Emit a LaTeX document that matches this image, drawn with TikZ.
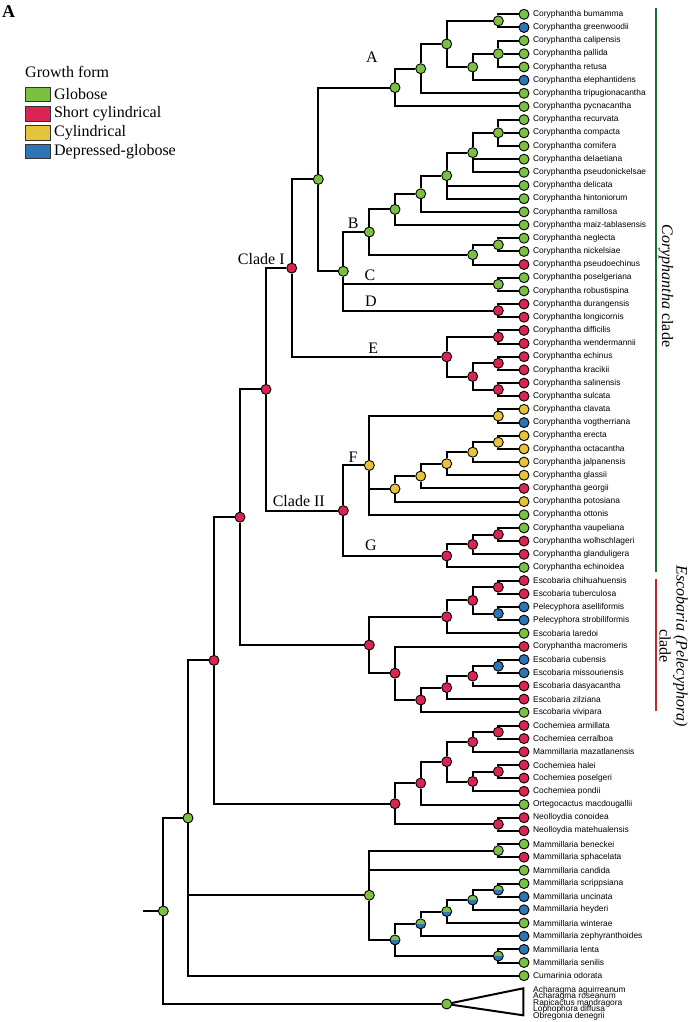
\documentclass[tikz,border=0pt]{standalone}
\usepackage{fontspec}
\setmainfont{Liberation Serif}
\newfontfamily\taxonfont{Liberation Sans}
\usetikzlibrary{backgrounds}
\definecolor{gcol}{HTML}{7AC143}
\definecolor{rcol}{HTML}{DA2553}
\definecolor{ycol}{HTML}{E5C43A}
\definecolor{bcol}{HTML}{2E75B6}
\definecolor{corygreen}{HTML}{1F6B3A}
\definecolor{escored}{HTML}{C0272D}
\begin{document}
\begin{tikzpicture}
	[x=1pt,y=-1pt,label distance=3.5pt,
		branch/.style={black,line width=2pt},
		tipnode/.style={circle,draw=black,line width=0.9pt,inner sep=0pt,minimum size=10pt},
		glob/.style={tipnode,fill=gcol},
		scyl/.style={tipnode,fill=rcol},
		cyl/.style={tipnode,fill=ycol},
		dglob/.style={tipnode,fill=bcol},
		mixed/.style={tipnode,fill=gcol,path picture={\fill[bcol] (path picture bounding box.west) rectangle (path picture bounding box.south east);}},
		taxon/.style={font=\taxonfont\fontsize{8.4}{9}\selectfont,inner sep=0pt},
		cladelab/.style={font=\fontsize{16}{18}\selectfont,inner sep=0pt},
		cladename/.style={font=\fontsize{16}{17}\selectfont,inner sep=0pt,rotate=-90},
		legbox/.style={draw=black!80,line width=0.8pt,minimum width=25pt,minimum height=14.5pt,inner sep=0pt},
		legtext/.style={font=\fontsize{16}{18}\selectfont,inner sep=0pt}]
	\useasboundingbox (0,0) rectangle (694,1022);
	% panel letter and legend
	\node[anchor=north west,inner sep=0pt,font=\bfseries\fontsize{18}{20}\selectfont] (panel) at (2,5) {A};
	\node[legtext,anchor=base west] (growth) at (25,77.5) {Growth form};
	\node[legbox,fill=gcol,label={[legtext]right:Globose}] (kglob) at (37.5,94.5) {};
	\node[legbox,fill=rcol,label={[legtext]right:Short cylindrical}] (kscyl) at (37.5,113.7) {};
	\node[legbox,fill=ycol,label={[legtext]right:Cylindrical}] (kcyl) at (37.5,132.7) {};
	\node[legbox,fill=bcol,label={[legtext]right:Depressed-globose}] (kdglob) at (37.5,151.2) {};
	% tips
	\node[glob,label={[taxon]right:Coryphantha bumamma}] (bumamma) at (524,14.3) {};
	\node[dglob,label={[taxon]right:Coryphantha greenwoodii}] (greenwoodii) at (524,27.5) {};
	\node[glob,label={[taxon]right:Coryphantha calipensis}] (calipensis) at (524,40.6) {};
	\node[glob,label={[taxon]right:Coryphantha pallida}] (pallida) at (524,53.8) {};
	\node[glob,label={[taxon]right:Coryphantha retusa}] (retusa) at (524,67.0) {};
	\node[dglob,label={[taxon]right:Coryphantha elephantidens}] (elephantidens) at (524,80.2) {};
	\node[glob,label={[taxon]right:Coryphantha tripugionacantha}] (tripugionacantha) at (524,93.3) {};
	\node[glob,label={[taxon]right:Coryphantha pycnacantha}] (pycnacantha) at (524,106.5) {};
	\node[glob,label={[taxon]right:Coryphantha recurvata}] (recurvata) at (524,119.7) {};
	\node[glob,label={[taxon]right:Coryphantha compacta}] (compacta) at (524,132.8) {};
	\node[glob,label={[taxon]right:Coryphantha cornifera}] (cornifera) at (524,146.0) {};
	\node[glob,label={[taxon]right:Coryphantha delaetiana}] (delaetiana) at (524,159.2) {};
	\node[glob,label={[taxon]right:Coryphantha pseudonickelsae}] (pseudonickelsae) at (524,172.3) {};
	\node[glob,label={[taxon]right:Coryphantha delicata}] (delicata) at (524,185.5) {};
	\node[glob,label={[taxon]right:Coryphantha hintoniorum}] (hintoniorum) at (524,198.7) {};
	\node[glob,label={[taxon]right:Coryphantha ramillosa}] (ramillosa) at (524,211.9) {};
	\node[glob,label={[taxon]right:Coryphantha maiz-tablasensis}] (maiztablasensis) at (524,225.0) {};
	\node[glob,label={[taxon]right:Coryphantha neglecta}] (neglecta) at (524,238.2) {};
	\node[glob,label={[taxon]right:Coryphantha nickelsiae}] (nickelsiae) at (524,251.4) {};
	\node[scyl,label={[taxon]right:Coryphantha pseudoechinus}] (pseudoechinus) at (524,264.5) {};
	\node[glob,label={[taxon]right:Coryphantha poselgeriana}] (poselgeriana) at (524,277.7) {};
	\node[glob,label={[taxon]right:Coryphantha robustispina}] (robustispina) at (524,290.9) {};
	\node[scyl,label={[taxon]right:Coryphantha durangensis}] (durangensis) at (524,304.0) {};
	\node[scyl,label={[taxon]right:Coryphantha longicornis}] (longicornis) at (524,317.2) {};
	\node[scyl,label={[taxon]right:Coryphantha difficilis}] (difficilis) at (524,330.4) {};
	\node[scyl,label={[taxon]right:Coryphantha wendermannii}] (wendermannii) at (524,343.5) {};
	\node[scyl,label={[taxon]right:Coryphantha echinus}] (echinus) at (524,356.7) {};
	\node[scyl,label={[taxon]right:Coryphantha kracikii}] (kracikii) at (524,369.9) {};
	\node[scyl,label={[taxon]right:Coryphantha salinensis}] (salinensis) at (524,383.1) {};
	\node[scyl,label={[taxon]right:Coryphantha sulcata}] (sulcata) at (524,396.2) {};
	\node[cyl,label={[taxon]right:Coryphantha clavata}] (clavata) at (524,409.4) {};
	\node[dglob,label={[taxon]right:Coryphantha vogtherriana}] (vogtherriana) at (524,422.6) {};
	\node[cyl,label={[taxon]right:Coryphantha erecta}] (erecta) at (524,435.7) {};
	\node[cyl,label={[taxon]right:Coryphantha octacantha}] (octacantha) at (524,448.9) {};
	\node[cyl,label={[taxon]right:Coryphantha jalpanensis}] (jalpanensis) at (524,462.1) {};
	\node[cyl,label={[taxon]right:Coryphantha glassii}] (glassii) at (524,475.2) {};
	\node[scyl,label={[taxon]right:Coryphantha georgii}] (georgii) at (524,488.4) {};
	\node[cyl,label={[taxon]right:Coryphantha potosiana}] (potosiana) at (524,501.6) {};
	\node[glob,label={[taxon]right:Coryphantha ottonis}] (ottonis) at (524,514.8) {};
	\node[glob,label={[taxon]right:Coryphantha vaupeliana}] (vaupeliana) at (524,527.9) {};
	\node[scyl,label={[taxon]right:Coryphantha wolhschlageri}] (wolhschlageri) at (524,541.1) {};
	\node[scyl,label={[taxon]right:Coryphantha glanduligera}] (glanduligera) at (524,554.3) {};
	\node[glob,label={[taxon]right:Coryphantha echinoidea}] (echinoidea) at (524,567.4) {};
	\node[scyl,label={[taxon]right:Escobaria chihuahuensis}] (chihuahuensis) at (524,580.6) {};
	\node[scyl,label={[taxon]right:Escobaria tuberculosa}] (tuberculosa) at (524,593.8) {};
	\node[dglob,label={[taxon]right:Pelecyphora aselliformis}] (aselliformis) at (524,606.9) {};
	\node[dglob,label={[taxon]right:Pelecyphora strobiliformis}] (strobiliformis) at (524,620.1) {};
	\node[glob,label={[taxon]right:Escobaria laredoi}] (laredoi) at (524,633.3) {};
	\node[scyl,label={[taxon]right:Coryphantha macromeris}] (macromeris) at (524,646.5) {};
	\node[dglob,label={[taxon]right:Escobaria cubensis}] (cubensis) at (524,659.6) {};
	\node[dglob,label={[taxon]right:Escobaria missouriensis}] (missouriensis) at (524,672.8) {};
	\node[scyl,label={[taxon]right:Escobaria dasyacantha}] (dasyacantha) at (524,686.0) {};
	\node[scyl,label={[taxon]right:Escobaria zilziana}] (zilziana) at (524,699.1) {};
	\node[glob,label={[taxon]right:Escobaria vivipara}] (vivipara) at (524,712.3) {};
	\node[scyl,label={[taxon]right:Cochemiea armillata}] (armillata) at (524,725.5) {};
	\node[scyl,label={[taxon]right:Cochemiea cerralboa}] (cerralboa) at (524,738.6) {};
	\node[scyl,label={[taxon]right:Mammillaria mazatlanensis}] (mazatlanensis) at (524,751.8) {};
	\node[scyl,label={[taxon]right:Cochemiea halei}] (halei) at (524,765.0) {};
	\node[scyl,label={[taxon]right:Cochemiea poselgeri}] (poselgeri) at (524,778.1) {};
	\node[scyl,label={[taxon]right:Cochemiea pondii}] (pondii) at (524,791.3) {};
	\node[glob,label={[taxon]right:Ortegocactus macdougallii}] (macdougallii) at (524,804.5) {};
	\node[scyl,label={[taxon]right:Neolloydia conoidea}] (conoidea) at (524,817.7) {};
	\node[scyl,label={[taxon]right:Neolloydia matehualensis}] (matehualensis) at (524,830.8) {};
	\node[glob,label={[taxon]right:Mammillaria beneckei}] (beneckei) at (524,844.0) {};
	\node[scyl,label={[taxon]right:Mammillaria sphacelata}] (sphacelata) at (524,857.2) {};
	\node[glob,label={[taxon]right:Mammillaria candida}] (candida) at (524,870.3) {};
	\node[glob,label={[taxon]right:Mammillaria scrippsiana}] (scrippsiana) at (524,883.5) {};
	\node[dglob,label={[taxon]right:Mammillaria uncinata}] (uncinata) at (524,896.7) {};
	\node[dglob,label={[taxon]right:Mammillaria heyderi}] (heyderi) at (524,909.8) {};
	\node[glob,label={[taxon]right:Mammillaria winterae}] (winterae) at (524,923.0) {};
	\node[dglob,label={[taxon]right:Mammillaria zephyranthoides}] (zephyranthoides) at (524,936.2) {};
	\node[dglob,label={[taxon]right:Mammillaria lenta}] (lenta) at (524,949.4) {};
	\node[glob,label={[taxon]right:Mammillaria senilis}] (senilis) at (524,962.5) {};
	\node[glob,label={[taxon]right:Cumarinia odorata}] (odorata) at (524,975.7) {};
	% outgroup names
	\node[taxon,anchor=west] (og1) at (533,990) {Acharagma aguirreanum};
	\node[taxon,anchor=west] (og2) at (533,996.5) {Acharagma roseanum};
	\node[taxon,anchor=west] (og3) at (533,1003) {Rapicactus mandragora};
	\node[taxon,anchor=west] (og4) at (533,1009.5) {Lophophora diffusa};
	\node[taxon,anchor=west] (og5) at (533,1016) {Obregonia denegrii};
	% internal nodes
	\node[glob] (a1) at (498.3,20.9) {};
	\node[glob] (a2) at (498.3,53.8) {};
	\node[glob] (a3) at (472.7,67.0) {};
	\node[glob] (a4) at (446.7,44.0) {};
	\node[glob] (a5) at (420.7,68.7) {};
	\node[glob] (nA) at (395,87.6) {};
	\node[glob] (b1) at (498.3,132.8) {};
	\node[glob] (b2) at (472.7,152.6) {};
	\node[glob] (b3) at (446.7,175.6) {};
	\node[glob] (b4) at (420.7,193.8) {};
	\node[glob] (b5) at (395,209.4) {};
	\node[glob] (b6) at (498.3,244.8) {};
	\node[glob] (b7) at (472.7,254.7) {};
	\node[glob] (nB) at (369.3,232.0) {};
	\node[glob] (nC) at (498.3,284.3) {};
	\node[scyl] (nD) at (498.3,310.6) {};
	\node[glob] (nBCD) at (343.3,271.3) {};
	\node[glob] (nAB) at (318.3,179.4) {};
	\node[scyl] (e1) at (498.3,337.0) {};
	\node[scyl] (e2) at (498.3,363.3) {};
	\node[scyl] (e3) at (498.3,389.6) {};
	\node[scyl] (e4) at (472.7,376.5) {};
	\node[scyl] (nE) at (446.7,356.8) {};
	\node[scyl] (cladeI) at (291.7,268.1) {};
	\node[cyl] (f1) at (498.3,416.0) {};
	\node[cyl] (f2) at (498.3,442.3) {};
	\node[cyl] (f3) at (472.7,452.2) {};
	\node[cyl] (f4) at (446.7,463.7) {};
	\node[cyl] (f5) at (420.7,476.1) {};
	\node[cyl] (f6) at (395,488.8) {};
	\node[cyl] (nF) at (369.3,465.4) {};
	\node[scyl] (g1) at (498.3,534.5) {};
	\node[scyl] (g2) at (472.7,544.4) {};
	\node[scyl] (nG) at (446.7,555.9) {};
	\node[scyl] (cladeII) at (343.3,510.6) {};
	\node[scyl] (cory) at (266,389.4) {};
	\node[scyl] (s1) at (498.3,587.2) {};
	\node[dglob] (s2) at (498.3,613.5) {};
	\node[scyl] (s3) at (472.7,600.4) {};
	\node[scyl] (s4) at (446.7,616.8) {};
	\node[dglob] (s5) at (498.3,666.2) {};
	\node[scyl] (s6) at (472.7,676.1) {};
	\node[scyl] (s7) at (446.7,687.6) {};
	\node[scyl] (s8) at (420.7,700.0) {};
	\node[scyl] (s9) at (395,673.2) {};
	\node[scyl] (esco) at (369.3,645.0) {};
	\node[scyl] (coresc) at (240,517.2) {};
	\node[scyl] (k1) at (498.3,732.1) {};
	\node[scyl] (k2) at (472.7,742.0) {};
	\node[scyl] (k3) at (498.3,771.6) {};
	\node[scyl] (k4) at (472.7,781.5) {};
	\node[scyl] (k5) at (446.7,761.7) {};
	\node[scyl] (k6) at (420.7,783.1) {};
	\node[scyl] (k7) at (498.3,824.3) {};
	\node[scyl] (coch) at (395,803.7) {};
	\node[scyl] (corcoch) at (214,660.4) {};
	\node[glob] (m1) at (498.3,850.6) {};
	\node[mixed] (m2) at (498.3,890.1) {};
	\node[mixed] (m3) at (472.7,900.0) {};
	\node[mixed] (m4) at (446.7,911.5) {};
	\node[mixed] (m5) at (420.7,923.8) {};
	\node[mixed] (m6) at (498.3,956.0) {};
	\node[mixed] (m7) at (395,939.9) {};
	\node[glob] (mamm) at (369.3,895.2) {};
	\node[glob] (ingroup) at (188,818.0) {};
	\node[glob] (root) at (163.3,911) {};
	\node[glob] (outgroup) at (446.7,1004) {};
	\coordinate (stub) at (143,911);
	\coordinate (tritop) at (523.3,988.3);
	\coordinate (tribot) at (523.3,1015.3);
	% clade labels
	\node[cladelab] (labA) at (372,57) {A};
	\node[cladelab] (labB) at (353.3,223) {B};
	\node[cladelab] (labC) at (370,275) {C};
	\node[cladelab] (labD) at (371,301.7) {D};
	\node[cladelab] (labE) at (373.3,348.3) {E};
	\node[cladelab] (labF) at (353,457) {F};
	\node[cladelab] (labG) at (371,545.3) {G};
	\node[cladelab] (labI) at (261.3,259) {Clade I};
	\node[cladelab] (labII) at (298.8,500.8) {Clade II};
	% clade bars
	\coordinate (corytop) at (656,8);
	\coordinate (corybot) at (656,572);
	\coordinate (escotop) at (656,579);
	\coordinate (escobot) at (656,711);
	\draw[corygreen,line width=2.2pt] (corytop) -- (corybot);
	\draw[escored,line width=2.2pt] (escotop) -- (escobot);
	\node[cladename] (corylab) at (666,286) {\textit{Coryphantha} clade};
	\node[cladename,align=center] (escolab) at (673.5,646) {\textit{Escobaria (Pelecyphora)}\\clade};
	\begin{scope}[on background layer]
	\draw[branch] (a1) |- (bumamma) (a1) |- (greenwoodii);
	\draw[branch] (a2) |- (calipensis) (a2) -- (pallida) (a2) |- (retusa);
	\draw[branch] (a3) |- (a2) (a3) |- (elephantidens);
	\draw[branch] (a4) |- (a1) (a4) |- (a3);
	\draw[branch] (a5) |- (a4) (a5) |- (tripugionacantha);
	\draw[branch] (nA) |- (a5) (nA) |- (pycnacantha);
	\draw[branch] (b1) |- (recurvata) (b1) -- (compacta) (b1) |- (cornifera);
	\draw[branch] (b2) |- (b1) (b2) |- (delaetiana) (b2) |- (pseudonickelsae);
	\draw[branch] (b3) |- (b2) (b3) |- (delicata) (b3) |- (hintoniorum);
	\draw[branch] (b4) |- (b3) (b4) |- (ramillosa);
	\draw[branch] (b5) |- (b4) (b5) |- (maiztablasensis);
	\draw[branch] (b6) |- (neglecta) (b6) |- (nickelsiae);
	\draw[branch] (b7) |- (b6) (b7) |- (pseudoechinus);
	\draw[branch] (nB) |- (b5) (nB) |- (b7);
	\draw[branch] (nC) |- (poselgeriana) (nC) |- (robustispina);
	\draw[branch] (nD) |- (durangensis) (nD) |- (longicornis);
	\draw[branch] (nBCD) |- (nB) (nBCD) |- (nC) (nBCD) |- (nD);
	\draw[branch] (nAB) |- (nA) (nAB) |- (nBCD);
	\draw[branch] (e1) |- (difficilis) (e1) |- (wendermannii);
	\draw[branch] (e2) |- (echinus) (e2) |- (kracikii);
	\draw[branch] (e3) |- (salinensis) (e3) |- (sulcata);
	\draw[branch] (e4) |- (e2) (e4) |- (e3);
	\draw[branch] (nE) |- (e1) (nE) |- (e4);
	\draw[branch] (cladeI) |- (nAB) (cladeI) |- (nE);
	\draw[branch] (f1) |- (clavata) (f1) |- (vogtherriana);
	\draw[branch] (f2) |- (erecta) (f2) |- (octacantha);
	\draw[branch] (f3) |- (f2) (f3) |- (jalpanensis);
	\draw[branch] (f4) |- (f3) (f4) |- (glassii);
	\draw[branch] (f5) |- (f4) (f5) |- (georgii);
	\draw[branch] (f6) |- (f5) (f6) |- (potosiana);
	\draw[branch] (nF) |- (f1) (nF) |- (f6) (nF) |- (ottonis);
	\draw[branch] (g1) |- (vaupeliana) (g1) |- (wolhschlageri);
	\draw[branch] (g2) |- (g1) (g2) |- (glanduligera);
	\draw[branch] (nG) |- (g2) (nG) |- (echinoidea);
	\draw[branch] (cladeII) |- (nF) (cladeII) |- (nG);
	\draw[branch] (cory) |- (cladeI) (cory) |- (cladeII);
	\draw[branch] (s1) |- (chihuahuensis) (s1) |- (tuberculosa);
	\draw[branch] (s2) |- (aselliformis) (s2) |- (strobiliformis);
	\draw[branch] (s3) |- (s1) (s3) |- (s2);
	\draw[branch] (s4) |- (s3) (s4) |- (laredoi);
	\draw[branch] (s5) |- (cubensis) (s5) |- (missouriensis);
	\draw[branch] (s6) |- (s5) (s6) |- (dasyacantha);
	\draw[branch] (s7) |- (s6) (s7) |- (zilziana);
	\draw[branch] (s8) |- (s7) (s8) |- (vivipara);
	\draw[branch] (s9) |- (macromeris) (s9) |- (s8);
	\draw[branch] (esco) |- (s4) (esco) |- (s9);
	\draw[branch] (coresc) |- (cory) (coresc) |- (esco);
	\draw[branch] (k1) |- (armillata) (k1) |- (cerralboa);
	\draw[branch] (k2) |- (k1) (k2) |- (mazatlanensis);
	\draw[branch] (k3) |- (halei) (k3) |- (poselgeri);
	\draw[branch] (k4) |- (k3) (k4) |- (pondii);
	\draw[branch] (k5) |- (k2) (k5) |- (k4);
	\draw[branch] (k6) |- (k5) (k6) |- (macdougallii);
	\draw[branch] (k7) |- (conoidea) (k7) |- (matehualensis);
	\draw[branch] (coch) |- (k6) (coch) |- (k7);
	\draw[branch] (corcoch) |- (coresc) (corcoch) |- (coch);
	\draw[branch] (m1) |- (beneckei) (m1) |- (sphacelata);
	\draw[branch] (m2) |- (scrippsiana) (m2) |- (uncinata);
	\draw[branch] (m3) |- (m2) (m3) |- (heyderi);
	\draw[branch] (m4) |- (m3) (m4) |- (winterae);
	\draw[branch] (m5) |- (m4) (m5) |- (zephyranthoides);
	\draw[branch] (m6) |- (lenta) (m6) |- (senilis);
	\draw[branch] (m7) |- (m5) (m7) |- (m6);
	\draw[branch] (mamm) |- (m1) (mamm) |- (candida) (mamm) |- (m7);
	\draw[branch] (ingroup) |- (corcoch) (ingroup) |- (mamm) (ingroup) |- (odorata);
	\draw[branch] (root) |- (ingroup) (root) |- (outgroup);
	\draw[branch] (stub) -- (root);
	\draw[branch,line join=miter] (outgroup.center) -- (tritop) -- (tribot) -- cycle;
	\end{scope}
\end{tikzpicture}
\end{document}
